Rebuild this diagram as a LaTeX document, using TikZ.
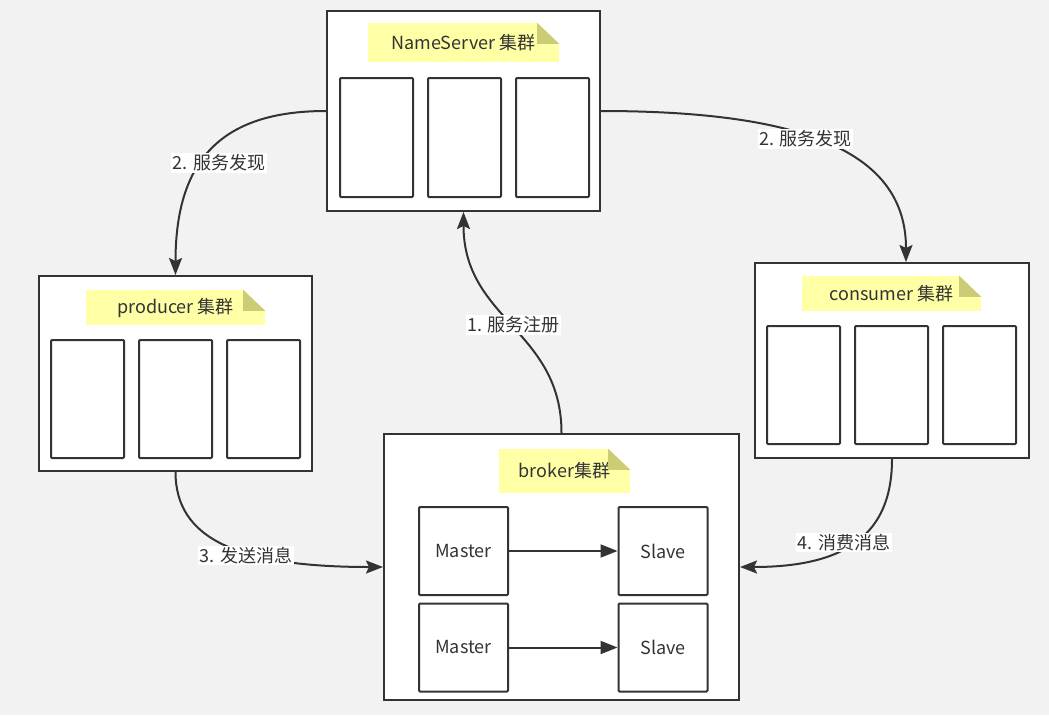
\documentclass[tikz,border=0pt]{standalone}
\usepackage{fontspec}
\setmainfont{Noto Sans CJK SC}
\usetikzlibrary{arrows.meta}
\definecolor{bg}{HTML}{F2F2F2}
\definecolor{ink}{HTML}{333333}
\definecolor{notey}{HTML}{FFFFA6}
\definecolor{foldc}{HTML}{CCCC77}
\newcommand\notefold[1]{%
  \fill[white] ([xshift=-22pt]#1.north east) -- (#1.north east) -- ([yshift=-21pt]#1.north east) -- cycle;
  \fill[foldc] ([xshift=-22pt]#1.north east) -- ([xshift=-22pt,yshift=-21pt]#1.north east) -- ([yshift=-21pt]#1.north east) -- cycle;}
\begin{document}
\begin{tikzpicture}[x=1pt,y=-1pt,
  every node/.style={text=ink},
  cluster/.style={draw=ink,line width=2pt,fill=white,inner sep=0pt},
  inbox/.style={draw=ink,line width=2pt,fill=white,inner sep=0pt,minimum width=73pt,minimum height=118pt,rounded corners=1pt},
  msbox/.style={draw=ink,line width=2pt,fill=white,inner sep=0pt,minimum width=89pt,minimum height=88pt,rounded corners=1pt,font=\fontsize{18pt}{21pt}\selectfont},
  notebox/.style={fill=notey,inner sep=0pt,font=\fontsize{18pt}{21pt}\selectfont},
  lbl/.style={fill=white,inner sep=1.5pt,font=\fontsize{18pt}{21pt}\selectfont},
  conn/.style={draw=ink,line width=2pt,-{Stealth[length=17pt,width=13pt,inset=3pt]}},
  msconn/.style={draw=ink,line width=2pt,-{Triangle[length=17pt,width=13pt]}}
]
\fill[bg] (0,0) rectangle (1049,715);
\useasboundingbox (0,0) rectangle (1049,715);

% NameServer cluster
\node[cluster,minimum width=273pt,minimum height=200pt] (ns) at (463.5,111) {};
\node[notebox,minimum width=191pt,minimum height=39pt] (nsnote) at (463.5,42.5) {NameServer 集群};
\notefold{nsnote}
\node[inbox,minimum height=119pt] (ns1) at (376.5,137.5) {};
\node[inbox,minimum height=119pt] (ns2) at (464.5,137.5) {};
\node[inbox,minimum height=119pt] (ns3) at (552.5,137.5) {};

% producer cluster
\node[cluster,minimum width=273pt,minimum height=195pt] (prod) at (175.5,373.5) {};
\node[notebox,minimum width=179pt,minimum height=35pt] (prodnote) at (175.5,307.5) {producer 集群};
\notefold{prodnote}
\node[inbox] (p1) at (87.5,399) {};
\node[inbox] (p2) at (175.5,399) {};
\node[inbox] (p3) at (263.5,399) {};

% consumer cluster
\node[cluster,minimum width=274pt,minimum height=195pt] (cons) at (892,360.5) {};
\node[notebox,minimum width=179pt,minimum height=35pt] (consnote) at (891.5,293.5) {consumer 集群};
\notefold{consnote}
\node[inbox] (c1) at (803.5,385) {};
\node[inbox] (c2) at (891.5,385) {};
\node[inbox] (c3) at (979.5,385) {};

% broker cluster
\node[cluster,minimum width=355pt,minimum height=266pt] (broker) at (561.5,567) {};
\node[notebox,minimum width=131pt,minimum height=44pt] (brnote) at (564.5,471) {broker集群};
\notefold{brnote}
\node[msbox] (m1) at (463.5,551) {Master};
\node[msbox] (s1) at (663,551) {Slave};
\node[msbox] (m2) at (463.5,647.5) {Master};
\node[msbox] (s2) at (663,647.5) {Slave};
\draw[msconn] (m1.east) -- (s1.west);
\draw[msconn] (m2.east) -- (s2.west);

% connectors
\draw[conn] (ns.west) .. controls (221,111) and (175.5,160.5) .. (prod.north);
\draw[conn] (ns.east) .. controls (814,111) and (906,156.6) .. ([xshift=14pt]cons.north);
\draw[conn] (broker.north) .. controls (561.5,330) and (463.5,320) .. (ns.south);
\draw[conn] (prod.south) .. controls (175.5,539) and (238,567) .. (broker.west);
\draw[conn] (cons.south) .. controls (892,535) and (845,567) .. (broker.east);

% labels
\node[lbl] (l1) at (219,163) {2. 服务发现};
\node[lbl] (l2) at (805.5,139) {2. 服务发现};
\node[lbl] (l3) at (513.5,325) {1. 服务注册};
\node[lbl] (l4) at (246,555.5) {3. 发送消息};
\node[lbl] (l5) at (844,542.5) {4. 消费消息};
\end{tikzpicture}
\end{document}
